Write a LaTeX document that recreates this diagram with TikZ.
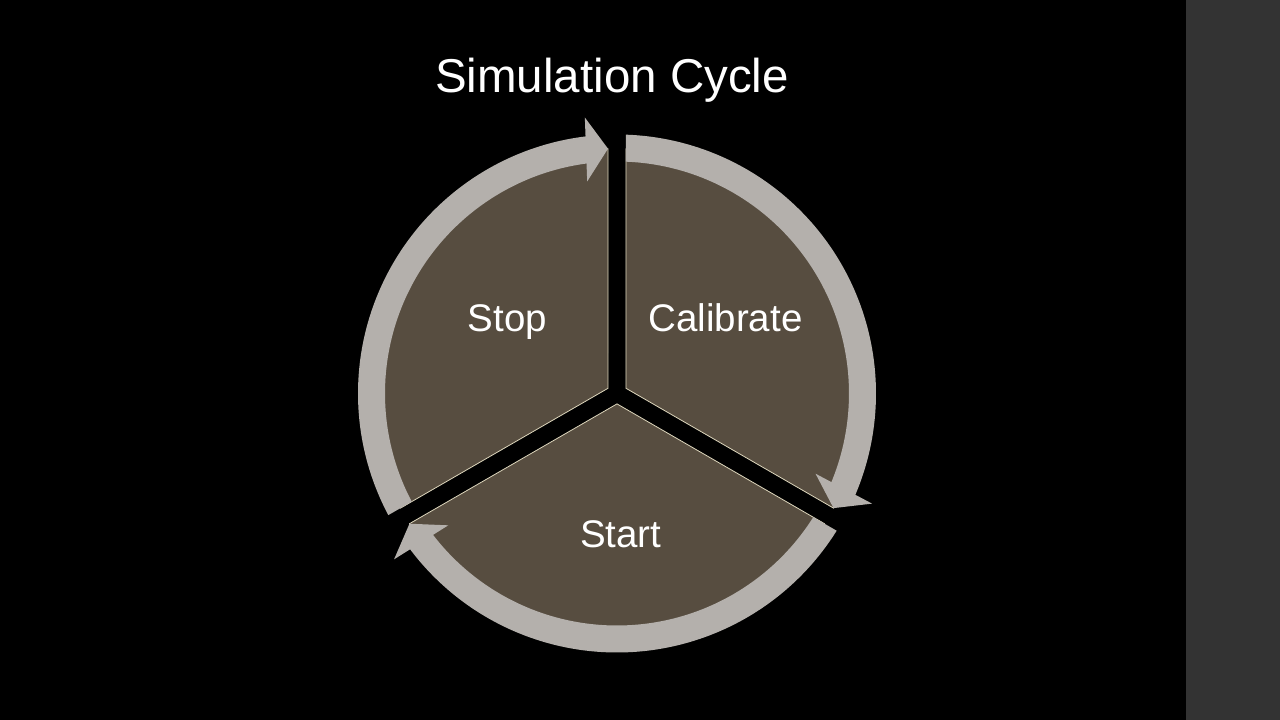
\documentclass[tikz,border=0pt]{standalone}
\usepackage{fontspec}
\setmainfont{Liberation Sans}
\usetikzlibrary{calc}
\definecolor{wedgefill}{HTML}{574D40}
\definecolor{ringgray}{HTML}{B4B0AC}
\definecolor{edgecream}{HTML}{DDD6BC}
\definecolor{stripgray}{HTML}{333333}
\begin{document}
\begin{tikzpicture}[x=1pt,y=1pt,
  wedge/.style={fill=wedgefill, draw=edgecream, line width=0.8pt, line join=miter},
  ringpart/.style={fill=ringgray},
  lbl/.style={text=white, anchor=base, inner sep=0pt, font=\fontsize{38.5}{46}\selectfont},
  ttl/.style={text=white, anchor=base, inner sep=0pt, font=\fontsize{47.5}{57}\selectfont}]
\fill[black] (-617,-326.5) rectangle (663,393.5);
\fill[stripgray] (569,-326.5) rectangle (663,393.5);
\useasboundingbox (-617,-326.5) rectangle (663,393.5);
% wedges
\foreach \a in {90,-30,210}{
  \pgfmathsetmacro\wA{\a+2.105}
  \pgfmathsetmacro\wB{\a+117.895}
  \pgfmathsetmacro\wC{\a+60}
  \draw[wedge] (\wC:10.392pt) -- (\wA:245pt) arc[start angle=\wA, end angle=\wB, radius=245pt] -- cycle;
}
% ring arrows
\foreach \a/\n in {210/s,90/c,-30/t}{
  \pgfmathsetmacro\rOut{\a-1.991}
  \pgfmathsetmacro\rIn{\a-2.223}
  \pgfmathsetmacro\rTip{\a-120+2.105}
  \pgfmathsetmacro\rEnd{\rTip+4}
  \pgfmathsetmacro\rNrm{\rTip+90}
  \pgfmathsetmacro\rRev{\rTip+180}
  \coordinate (tip\n) at (\rTip:245pt);
  \coordinate (back\n) at ($(tip\n)+(\rNrm:22pt)$);
  \fill[ringpart] (\rOut:259pt) arc[start angle=\rOut, end angle=\rEnd, radius=259pt]
     -- (\rEnd:232pt) arc[start angle=\rEnd, end angle=\rIn, radius=232pt] -- cycle;
  \fill[ringpart] (tip\n) -- ($(back\n)+(\rTip:32pt)$) -- ($(back\n)+(\rRev:32pt)$) -- cycle;
}
\node[lbl] (stop) at (-109.5,61.5) {Stop};
\node[lbl] (cal) at (108.5,61.5) {Calibrate};
\node[lbl] (start) at (3.8,-153.5) {Start};
\node[ttl] (title) at (-5,300.5) {Simulation Cycle};
\end{tikzpicture}
\end{document}
